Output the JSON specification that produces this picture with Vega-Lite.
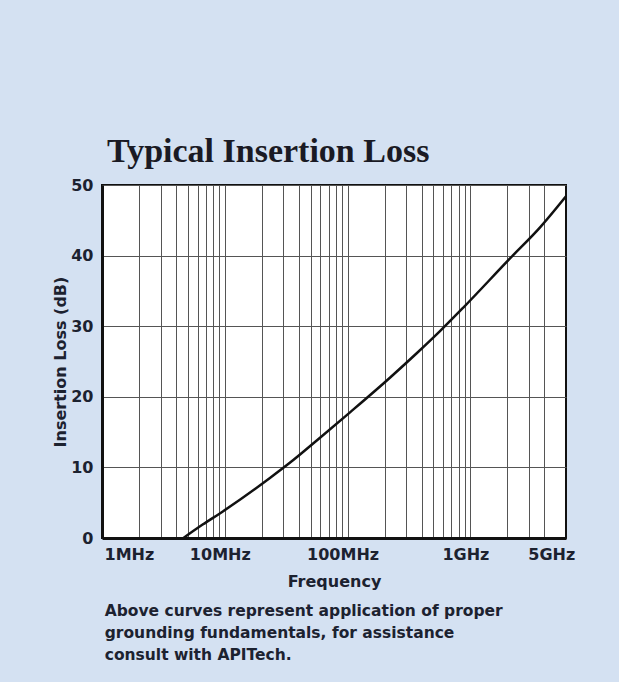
{
  "$schema": "https://vega.github.io/schema/vega-lite/v6.json",
  "background": "#d4e1f2",
  "autosize": {"type": "pad"},
  "padding": {"left": 51, "top": 134, "right": 46, "bottom": 22},
  "title": {
    "text": ["Above curves represent application of proper", "grounding fundamentals, for assistance", "consult with APITech."],
    "orient": "bottom",
    "anchor": "start",
    "font": "DejaVu Sans",
    "fontSize": 15.5,
    "fontWeight": "bold",
    "color": "#1c2230",
    "lineHeight": 22,
    "offset": 14,
    "dx": 53
  },
  "vconcat": [
    {
      "width": 464,
      "height": 353,
      "title": {
        "text": "Typical Insertion Loss",
        "anchor": "start",
        "frame": "group",
        "font": "Liberation Serif",
        "fontSize": 34,
        "fontWeight": "bold",
        "color": "#1a1a24",
        "offset": 8,
        "dx": 5
      },
      "data": {
        "values": [
          {"freq_hz": 4600000, "loss_db": 0},
          {"freq_hz": 6600000, "loss_db": 1.9},
          {"freq_hz": 9700000, "loss_db": 3.8},
          {"freq_hz": 23300000, "loss_db": 8.5},
          {"freq_hz": 35900000, "loss_db": 11.0},
          {"freq_hz": 59600000, "loss_db": 14.2},
          {"freq_hz": 104600000, "loss_db": 17.8},
          {"freq_hz": 221000000, "loss_db": 22.7},
          {"freq_hz": 367000000, "loss_db": 26.2},
          {"freq_hz": 565000000, "loss_db": 29.3},
          {"freq_hz": 871000000, "loss_db": 32.6},
          {"freq_hz": 2100000000, "loss_db": 39.6},
          {"freq_hz": 3690000000, "loss_db": 44.0},
          {"freq_hz": 6000000000, "loss_db": 48.4}
        ]
      },
      "mark": {"type": "line", "color": "#111111", "strokeWidth": 2.5, "interpolate": "monotone", "clip": true},
      "encoding": {
        "x": {
          "field": "freq_hz",
          "type": "quantitative",
          "scale": {"type": "log", "domain": [1000000, 6000000000], "nice": false},
          "axis": {
            "title": "Frequency",
            "titleFont": "DejaVu Sans",
            "titleFontSize": 16,
            "titleFontWeight": "bold",
            "titleColor": "#1c2230",
            "titlePadding": 11,
            "values": [1000000, 2000000, 3000000, 4000000, 5000000, 6000000, 7000000, 8000000, 9000000,
                       10000000, 20000000, 30000000, 40000000, 50000000, 60000000, 70000000, 80000000, 90000000,
                       100000000, 200000000, 300000000, 400000000, 500000000, 600000000, 700000000, 800000000, 900000000,
                       1000000000, 2000000000, 3000000000, 4000000000, 5000000000],
            "labelExpr": "datum.value == 1000000 ? '1MHz' : datum.value == 10000000 ? '10MHz' : datum.value == 100000000 ? '100MHz' : datum.value == 1000000000 ? '1GHz' : datum.value == 5000000000 ? '5GHz' : ''",
            "labelFont": "DejaVu Sans",
            "labelFontSize": 16,
            "labelFontWeight": "bold",
            "labelColor": "#1c2230",
            "labelPadding": 8,
            "labelOverlap": false,
            "labelFlush": true,
            "labelOffset": {"condition": {"test": "datum.value == 1000000", "value": 2}, "value": -5},
            "ticks": false,
            "tickSize": 0,
            "grid": true,
            "gridColor": "#555555",
            "gridWidth": 1,
            "gridOpacity": {"condition": {"test": "datum.value == 5000000000", "value": 0}, "value": 1},
            "domain": true,
            "domainColor": "#111111",
            "domainWidth": 3
          }
        },
        "y": {
          "field": "loss_db",
          "type": "quantitative",
          "scale": {"domain": [0, 50], "nice": false},
          "axis": {
            "title": "Insertion Loss (dB)",
            "titleFont": "DejaVu Sans",
            "titleFontSize": 16,
            "titleFontWeight": "bold",
            "titleColor": "#1c2230",
            "titlePadding": 2,
            "values": [0, 10, 20, 30, 40, 50],
            "labelFont": "DejaVu Sans",
            "labelFontSize": 16,
            "labelFontWeight": "bold",
            "labelColor": "#1c2230",
            "labelPadding": 9,
            "ticks": false,
            "tickSize": 0,
            "grid": true,
            "gridColor": "#555555",
            "gridWidth": 1,
            "domain": true,
            "domainColor": "#111111",
            "domainWidth": 3
          }
        }
      }
    }
  ],
  "config": {
    "view": {"stroke": "#111111", "strokeWidth": 2, "fill": "#ffffff"},
    "concat": {"spacing": 0}
  }
}
